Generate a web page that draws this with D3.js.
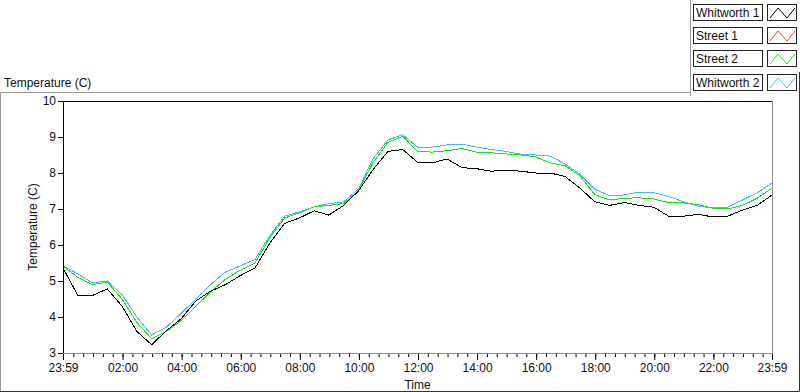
<!DOCTYPE html>
<html>
<head>
  <meta charset="utf-8">
  <title>Temperature chart</title>
  <script src="https://d3js.org/d3.v7.min.js"></script>
  <style>
    body { margin: 0; overflow: hidden; background: #fff; }
    svg { display: block; }
    text { font-family: "Liberation Sans", Arial, sans-serif; font-size: 12px; fill: #111; }
  </style>
</head>
<body>
  <svg width="800" height="392"></svg>

  <script>
    // series names and colours (legend order)
    const seriesNames = ["Whitworth 1", "Street 1", "Street 2", "Whitworth 2"];
    const seriesColors = ["#000000", "#ff3a3a", "#14e614", "#3fbcff"];

    // hours since 23:59, one sample every 30 minutes
    const hours = d3.range(0, 24.01, 0.5);

    const whitworth1 = [5.36, 4.6, 4.6, 4.78, 4.3, 3.6, 3.23, 3.62, 3.95, 4.45, 4.72, 4.9, 5.15,
      5.36, 6.05, 6.6, 6.75, 6.95, 6.83, 7.1, 7.5, 8.1, 8.6, 8.65, 8.3, 8.28, 8.39, 8.15, 8.12,
      8.05, 8.08, 8.05, 8.0, 8.0, 7.9, 7.58, 7.2, 7.1, 7.18, 7.1, 7.05, 6.8, 6.8, 6.85, 6.78,
      6.8, 6.97, 7.1, 7.39];
    const street1 = []; // no samples logged
    const street2 = [5.42, 5.1, 4.9, 4.97, 4.5, 3.85, 3.4, 3.6, 3.9, 4.3, 4.7, 5.05, 5.3,
      5.5, 6.2, 6.75, 6.89, 7.06, 7.1, 7.15, 7.5, 8.3, 8.85, 9.02, 8.6, 8.58, 8.62, 8.68, 8.58,
      8.56, 8.53, 8.5, 8.45, 8.28, 8.2, 7.92, 7.4, 7.25, 7.3, 7.31, 7.28, 7.18, 7.17, 7.12, 7.02,
      7.0, 7.1, 7.3, 7.58];
    const whitworth2 = [5.42, 5.2, 4.95, 5.0, 4.62, 4.0, 3.5, 3.72, 4.1, 4.5, 4.9, 5.25, 5.42,
      5.6, 6.25, 6.8, 6.92, 7.06, 7.15, 7.2, 7.55, 8.4, 8.92, 9.06, 8.72, 8.72, 8.78, 8.8, 8.72,
      8.65, 8.6, 8.52, 8.5, 8.47, 8.25, 7.96, 7.55, 7.37, 7.39, 7.47, 7.45, 7.35, 7.2, 7.08, 7.03,
      7.05, 7.25, 7.45, 7.72];

    const yTicks = [3, 4, 5, 6, 7, 8, 9, 10];
    const xTickLabels = ["23:59", "02:00", "04:00", "06:00", "08:00", "10:00", "12:00",
      "14:00", "16:00", "18:00", "20:00", "22:00", "23:59"];

    const svg = d3.select("svg");

    const start = new Date(2000, 0, 1, 23, 59);
    const end = new Date(2000, 0, 2, 23, 59);
    const toDate = h => new Date(start.getTime() + h * 3600e3);

    const plot = { left: 63, top: 101, right: 772, bottom: 353 };

    const x = d3.scaleTime().domain([start, end]).range([plot.left, plot.right]);
    const y = d3.scaleLinear().domain([3, 10]).range([plot.bottom, plot.top]);

    // outer panel frame
    const frame = svg.append("g").attr("fill", "none");
    frame.append("path").attr("d", "M0.5,392V92.5H690.5").attr("stroke", "#9a9a9a");
    frame.append("path").attr("d", "M690.5,0V96").attr("stroke", "#9a9a9a");
    frame.append("path").attr("d", "M799.5,72V391.5H0").attr("stroke", "#333");

    // top-left label
    svg.append("text").attr("x", 4).attr("y", 87).text("Temperature (C)");

    // legend
    const legend = svg.append("g");
    const rowY = [4, 27, 50, 74];
    seriesNames.forEach((name, i) => {
      const row = legend.append("g").attr("transform", `translate(0,${rowY[i]})`);
      row.append("rect").attr("x", 693.5).attr("y", 0.5).attr("width", 69).attr("height", 16)
        .attr("fill", "#fff").attr("stroke", "#222");
      row.append("text").attr("x", 696).attr("y", 13).text(name);
      row.append("rect").attr("x", 767.5).attr("y", 0.5).attr("width", 29).attr("height", 16)
        .attr("fill", "#fff").attr("stroke", "#222");
      row.append("path")
        .attr("d", "M770,14L778,4L787,14L795,4")
        .attr("fill", "none").attr("stroke", seriesColors[i]);
    });

    // plot background and border
    svg.append("rect")
      .attr("x", plot.left).attr("y", plot.top)
      .attr("width", plot.right - plot.left).attr("height", plot.bottom - plot.top)
      .attr("fill", "#fff");
    svg.append("path")
      .attr("d", `M${plot.left + 0.5},${plot.bottom}V${plot.top + 0.5}H${plot.right}`)
      .attr("fill", "none").attr("stroke", "#000");
    svg.append("path")
      .attr("d", `M${plot.left},${plot.bottom + 0.5}H${plot.right + 0.5}V${plot.top}`)
      .attr("fill", "none").attr("stroke", "#8c8c8c");

    // y axis
    const yAxis = svg.append("g")
      .attr("transform", `translate(${plot.left},0)`)
      .call(d3.axisLeft(y).tickValues(yTicks).tickSize(5).tickPadding(2).tickFormat(d3.format("d")));
    yAxis.select(".domain").remove();
    yAxis.selectAll("line").attr("stroke", "#000");
    yAxis.selectAll("text").attr("font-size", 12).attr("font-family", null).attr("fill", "#111");

    // x axis: minor ticks every 20 minutes, major ticks every 2 hours
    const minorTicks = d3.range(1 / 60 + 1 / 3, 24, 1 / 3).map(toDate);
    svg.append("g")
      .attr("transform", `translate(0,${plot.bottom})`)
      .call(d3.axisBottom(x).tickValues(minorTicks).tickSize(3).tickFormat(""))
      .call(g => g.select(".domain").remove())
      .call(g => g.selectAll("line").attr("stroke", "#000").attr("transform", "translate(0,1)"));

    const majorHours = [0, 2 + 1 / 60, 4 + 1 / 60, 6 + 1 / 60, 8 + 1 / 60, 10 + 1 / 60, 12 + 1 / 60,
      14 + 1 / 60, 16 + 1 / 60, 18 + 1 / 60, 20 + 1 / 60, 22 + 1 / 60, 24];
    const majorTicks = majorHours.map(toDate);
    const xAxis = svg.append("g")
      .attr("transform", `translate(0,${plot.bottom})`)
      .call(d3.axisBottom(x).tickValues(majorTicks).tickSize(6).tickPadding(4)
        .tickFormat((d, i) => xTickLabels[i]));
    xAxis.select(".domain").remove();
    xAxis.selectAll("line").attr("stroke", "#000").attr("transform", "translate(0,1)");
    xAxis.selectAll("text").attr("font-size", 12).attr("font-family", null).attr("fill", "#111");

    // axis titles
    svg.append("text")
      .attr("transform", `translate(37,${(plot.top + plot.bottom) / 2}) rotate(-90)`)
      .attr("text-anchor", "middle").attr("fill", "#3a0d0d")
      .text("Temperature (C)");
    svg.append("text")
      .attr("x", (plot.left + plot.right) / 2).attr("y", 389)
      .attr("text-anchor", "middle")
      .text("Time");

    // series
    const line = d3.line()
      .x((d, i) => x(toDate(hours[i])))
      .y(d => y(d));

    const allSeries = [whitworth1, street1, street2, whitworth2];
    svg.append("clipPath").attr("id", "plotclip").append("rect")
      .attr("x", plot.left + 1).attr("y", plot.top + 1)
      .attr("width", plot.right - plot.left - 1).attr("height", plot.bottom - plot.top - 1);

    const lines = svg.append("g").attr("clip-path", "url(#plotclip)");
    [1, 3, 2, 0].forEach(i => {
      if (!allSeries[i].length) return;
      lines.append("path")
        .datum(allSeries[i])
        .attr("d", line)
        .attr("fill", "none")
        .attr("stroke", seriesColors[i])
        .attr("stroke-width", 1)
        .attr("shape-rendering", "crispEdges");
    });
  </script>
</body>
</html>
